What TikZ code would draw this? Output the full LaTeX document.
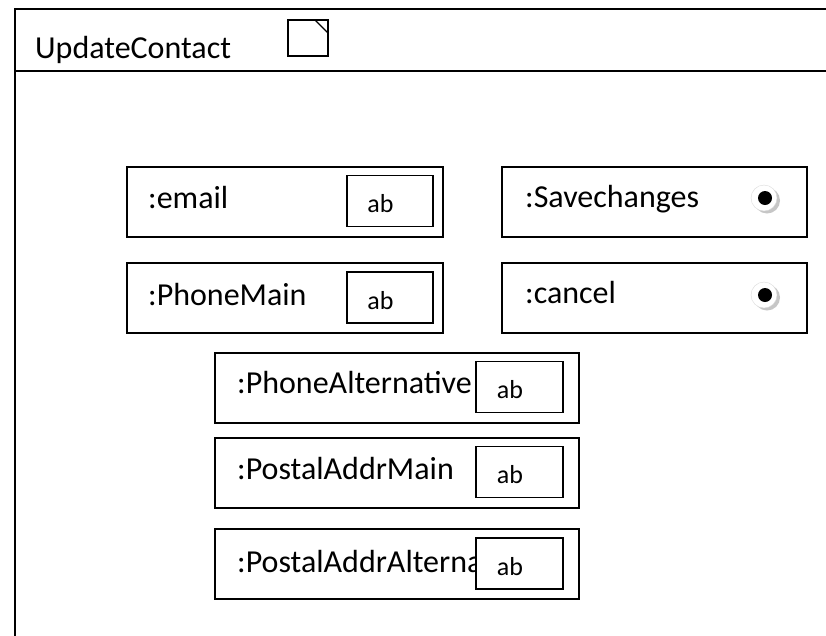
\documentclass[tikz,border=0pt]{standalone}
\usepackage{fontspec}
\setmainfont{Carlito}
\usetikzlibrary{calc}

\begin{document}
\begin{tikzpicture}[x=1pt,y=-1pt]
	 \tikzstyle{field}=[draw,line width=1.8pt,rectangle,minimum height=70pt,inner sep=0pt]
	 \tikzstyle{abbox}=[draw,line width=1.8pt,fill=white,rectangle,minimum width=86pt,minimum height=51pt,inner sep=0pt]
	 \tikzstyle{lbl}=[anchor=base west,inner sep=0pt,font=\fontsize{32}{38}\selectfont]
	 \tikzstyle{abtext}=[inner sep=0pt,font=\fontsize{26}{30}\selectfont]
	 \useasboundingbox (0,0) rectangle (826,635);
	 \clip (0,0) rectangle (826,635);
	 % frame and header
	 \draw[line width=1.8pt] (15,9) rectangle (840,650);
	 \draw[line width=1.8pt] (15,71) -- (840,71);
	 \node[lbl] (title) at (35,58) {UpdateContact};
	 \draw[line width=1.4pt] (288,20) rectangle (328,56);
	 \draw[line width=1.4pt] (315,20) -- (328,33);
	 % fields
	 \node[field,minimum width=316pt] (email) at (285,202) {};
	 \node[field,minimum width=316pt] (phonemain) at (285,298) {};
	 \node[field,minimum width=305pt] (save) at (654.5,202) {};
	 \node[field,minimum width=305pt] (cancel) at (654.5,298) {};
	 \node[field,minimum width=364pt] (phonealt) at (397,388) {};
	 \node[field,minimum width=364pt] (postalmain) at (397,473) {};
	 \node[field,minimum width=364pt] (postalalt) at (397,564) {};
	 \node[lbl] (emaillbl) at (148,208) {:email};
	 \node[lbl] (phonemainlbl) at (148,305) {:PhoneMain};
	 \node[lbl] (savelbl) at (525,207) {:Savechanges};
	 \node[lbl] (cancellbl) at (525,303) {:cancel};
	 \node[lbl] (phonealtlbl) at (237,393) {:PhoneAlternative};
	 \node[lbl] (postalmainlbl) at (237,479) {:PostalAddrMain};
	 \node[lbl] (postalaltlbl) at (237,572) {:PostalAddrAlternative};
	 % text boxes
	 \node[abbox] (emailab) at (390,201) {};
	 \node[abbox] (phonemainab) at (390,297.5) {};
	 \node[abbox,minimum width=87pt] (phonealtab) at (519.5,387) {};
	 \node[abbox,minimum width=87pt] (postalmainab) at (519.5,472) {};
	 \node[abbox,minimum width=87pt] (postalaltab) at (519.5,563.5) {};
	 \node[abtext] at ([xshift=-9.5pt,yshift=-3pt]emailab.center) {ab};
	 \node[abtext] at ([xshift=-9.5pt,yshift=-3pt]phonemainab.center) {ab};
	 \node[abtext] at ([xshift=-9.5pt,yshift=-3pt]phonealtab.center) {ab};
	 \node[abtext] at ([xshift=-9.5pt,yshift=-3pt]postalmainab.center) {ab};
	 \node[abtext] at ([xshift=-9.5pt,yshift=-3pt]postalaltab.center) {ab};
	 % radio buttons
	 \fill[gray!45] (767,200.5) circle (13);
	 \filldraw[fill=white,draw=gray!30] (764,198) circle (13);
	 \fill[black] (765,198) circle (7);
	 \fill[gray!45] (767,297.5) circle (13);
	 \filldraw[fill=white,draw=gray!30] (764,295) circle (13);
	 \fill[black] (765,295) circle (7);
 \end{tikzpicture}
\end{document}
